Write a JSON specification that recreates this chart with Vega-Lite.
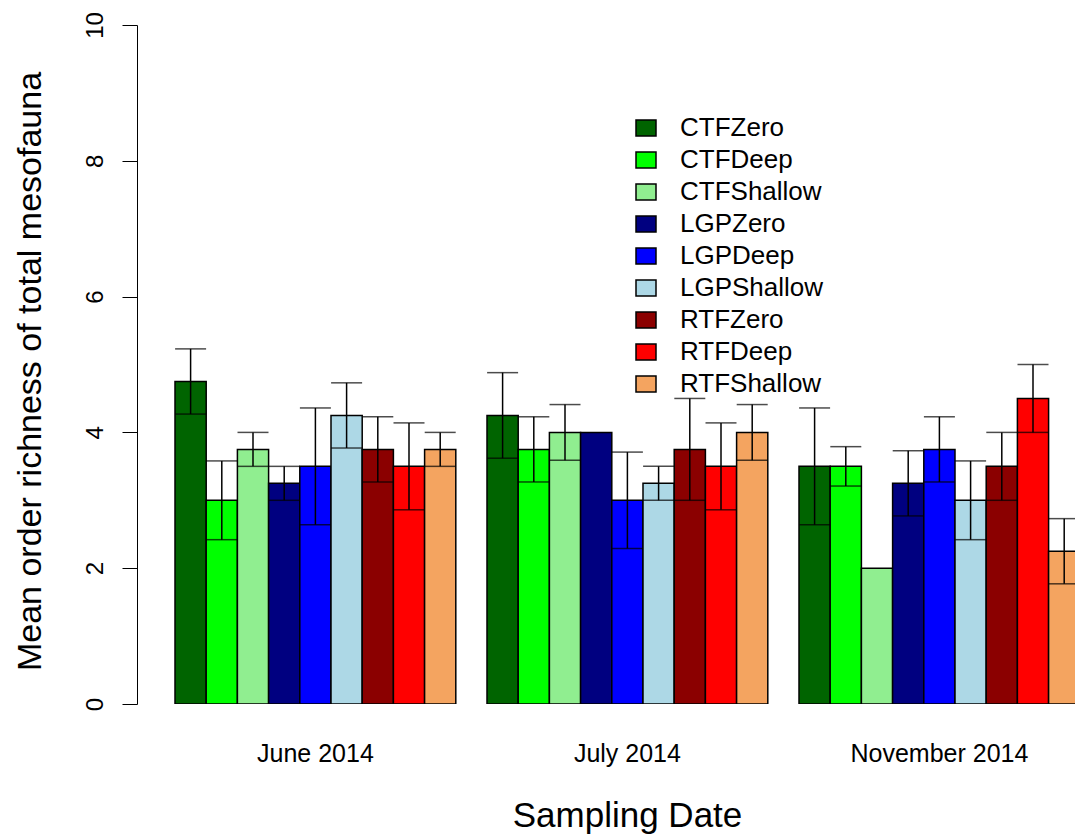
{
  "$schema": "https://vega.github.io/schema/vega-lite/v6.json",
  "autosize": {"type": "none"},
  "padding": {"left": 137, "top": 25, "right": 0, "bottom": 130},
  "width": 938,
  "height": 679,
  "background": "white",
  "config": {
    "view": {"stroke": null},
    "font": "Liberation Sans",
    "axis": {"labelColor": "black", "titleColor": "black", "titleFontWeight": "normal", "grid": false}
  },
  "data": {
    "values": [
      {"Date": "June 2014", "Treatment": "CTFZero", "mean": 4.75, "lower": 4.27, "upper": 5.23},
      {"Date": "June 2014", "Treatment": "CTFDeep", "mean": 3.0, "lower": 2.42, "upper": 3.58},
      {"Date": "June 2014", "Treatment": "CTFShallow", "mean": 3.75, "lower": 3.5, "upper": 4.0},
      {"Date": "June 2014", "Treatment": "LGPZero", "mean": 3.25, "lower": 3.0, "upper": 3.5},
      {"Date": "June 2014", "Treatment": "LGPDeep", "mean": 3.5, "lower": 2.64, "upper": 4.36},
      {"Date": "June 2014", "Treatment": "LGPShallow", "mean": 4.25, "lower": 3.77, "upper": 4.73},
      {"Date": "June 2014", "Treatment": "RTFZero", "mean": 3.75, "lower": 3.27, "upper": 4.23},
      {"Date": "June 2014", "Treatment": "RTFDeep", "mean": 3.5, "lower": 2.86, "upper": 4.14},
      {"Date": "June 2014", "Treatment": "RTFShallow", "mean": 3.75, "lower": 3.5, "upper": 4.0},
      {"Date": "July 2014", "Treatment": "CTFZero", "mean": 4.25, "lower": 3.62, "upper": 4.88},
      {"Date": "July 2014", "Treatment": "CTFDeep", "mean": 3.75, "lower": 3.27, "upper": 4.23},
      {"Date": "July 2014", "Treatment": "CTFShallow", "mean": 4.0, "lower": 3.59, "upper": 4.41},
      {"Date": "July 2014", "Treatment": "LGPZero", "mean": 4.0, "lower": 4.0, "upper": 4.0},
      {"Date": "July 2014", "Treatment": "LGPDeep", "mean": 3.0, "lower": 2.29, "upper": 3.71},
      {"Date": "July 2014", "Treatment": "LGPShallow", "mean": 3.25, "lower": 3.0, "upper": 3.5},
      {"Date": "July 2014", "Treatment": "RTFZero", "mean": 3.75, "lower": 3.0, "upper": 4.5},
      {"Date": "July 2014", "Treatment": "RTFDeep", "mean": 3.5, "lower": 2.86, "upper": 4.14},
      {"Date": "July 2014", "Treatment": "RTFShallow", "mean": 4.0, "lower": 3.59, "upper": 4.41},
      {"Date": "November 2014", "Treatment": "CTFZero", "mean": 3.5, "lower": 2.64, "upper": 4.36},
      {"Date": "November 2014", "Treatment": "CTFDeep", "mean": 3.5, "lower": 3.21, "upper": 3.79},
      {"Date": "November 2014", "Treatment": "CTFShallow", "mean": 2.0, "lower": 2.0, "upper": 2.0},
      {"Date": "November 2014", "Treatment": "LGPZero", "mean": 3.25, "lower": 2.77, "upper": 3.73},
      {"Date": "November 2014", "Treatment": "LGPDeep", "mean": 3.75, "lower": 3.27, "upper": 4.23},
      {"Date": "November 2014", "Treatment": "LGPShallow", "mean": 3.0, "lower": 2.42, "upper": 3.58},
      {"Date": "November 2014", "Treatment": "RTFZero", "mean": 3.5, "lower": 3.0, "upper": 4.0},
      {"Date": "November 2014", "Treatment": "RTFDeep", "mean": 4.5, "lower": 4.0, "upper": 5.0},
      {"Date": "November 2014", "Treatment": "RTFShallow", "mean": 2.25, "lower": 1.77, "upper": 2.73}
    ]
  },
  "encoding": {
    "x": {
      "field": "Date",
      "type": "nominal",
      "sort": ["June 2014", "July 2014", "November 2014"],
      "scale": {"range": [38, 942.8], "paddingInner": 0.1, "paddingOuter": 0},
      "axis": {
        "domain": false,
        "ticks": false,
        "tickSize": 0,
        "labelAngle": 0,
        "labelFontSize": 25,
        "labelBaseline": "alphabetic",
        "labelPadding": 57,
        "title": "Sampling Date",
        "titleFontSize": 35,
        "titleBaseline": "alphabetic",
        "titleX": 490,
        "titleY": 122
      }
    },
    "xOffset": {
      "field": "Treatment",
      "type": "nominal",
      "sort": ["CTFZero", "CTFDeep", "CTFShallow", "LGPZero", "LGPDeep", "LGPShallow", "RTFZero", "RTFDeep", "RTFShallow"],
      "scale": {"paddingInner": 0, "paddingOuter": 0}
    }
  },
  "layer": [
    {
      "mark": {"type": "bar", "stroke": "black", "strokeWidth": 1.5, "clip": true},
      "encoding": {
        "y": {
          "field": "mean",
          "type": "quantitative",
          "scale": {"domain": [0, 10], "nice": false, "zero": true},
          "axis": {
            "values": [0, 2, 4, 6, 8, 10],
            "format": "d",
            "domainColor": "black",
            "tickColor": "black",
            "tickSize": 15,
            "labelAngle": -90,
            "labelAlign": "center",
            "labelBaseline": "alphabetic",
            "labelPadding": 20,
            "labelFontSize": 24,
            "title": "Mean order richness of total mesofauna",
            "titleFontSize": 34,
            "titleAngle": -90,
            "titleBaseline": "alphabetic",
            "titleAlign": "center",
            "titleX": -97,
            "titleY": 346
          }
        },
        "color": {
          "field": "Treatment",
          "type": "nominal",
          "scale": {
            "domain": ["CTFZero", "CTFDeep", "CTFShallow", "LGPZero", "LGPDeep", "LGPShallow", "RTFZero", "RTFDeep", "RTFShallow"],
            "range": ["#006400", "#00ff00", "#90ee90", "#000080", "#0000ff", "#add8e6", "#8b0000", "#ff0000", "#f4a460"]
          },
          "legend": {
            "title": null,
            "orient": "none",
            "legendX": 496,
            "legendY": 90,
            "padding": 0,
            "symbolType": "M-1,-0.8H1V0.8H-1Z",
            "symbolSize": 400,
            "symbolStrokeColor": "black",
            "symbolStrokeWidth": 1.5,
            "symbolOpacity": 1,
            "labelFontSize": 26,
            "labelColor": "black",
            "labelOffset": 21,
            "rowPadding": 6,
            "labelLimit": 300
          }
        }
      }
    },
    {
      "transform": [{"filter": "datum.upper > datum.lower"}],
      "mark": {"type": "rule", "color": "black", "strokeWidth": 1.5, "clip": true},
      "encoding": {
        "y": {"field": "lower", "type": "quantitative"},
        "y2": {"field": "upper"}
      }
    },
    {
      "transform": [{"filter": "datum.upper > datum.lower"}],
      "mark": {"type": "tick", "color": "black", "thickness": 1.5, "size": 31, "clip": true},
      "encoding": {
        "y": {"field": "upper", "type": "quantitative"}
      }
    },
    {
      "transform": [{"filter": "datum.upper > datum.lower"}],
      "mark": {"type": "tick", "color": "black", "thickness": 1.5, "size": 31, "clip": true},
      "encoding": {
        "y": {"field": "lower", "type": "quantitative"}
      }
    }
  ]
}
